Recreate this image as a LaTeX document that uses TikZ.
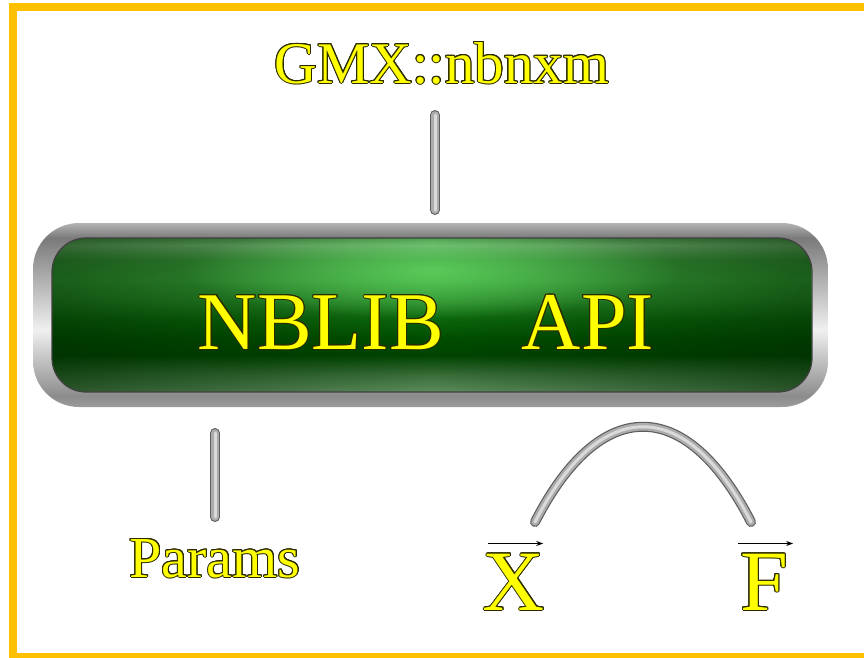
\documentclass[tikz,border=0pt]{standalone}
\usepackage{fontspec}
\setmainfont{Liberation Serif}
\usepackage{contour}
\contourlength{1pt}
\usetikzlibrary{arrows.meta,fadings,calc}

% palette
\definecolor{frameorange}{HTML}{FFC000}
\definecolor{labelyellow}{HTML}{FFFF00}
\definecolor{outl}{HTML}{2A2A00}
\definecolor{tubeedge}{HTML}{5E5E5E}
\definecolor{tubebody}{HTML}{ACACAC}
\definecolor{tubehi}{HTML}{DADADA}
\definecolor{rimA}{HTML}{9C9C9C}
\definecolor{rimB}{HTML}{8C8C8C}
\definecolor{rimC}{HTML}{F0F0F0}
\definecolor{rimD}{HTML}{7A7A7A}
\definecolor{rimE}{HTML}{B4B4B4}
\definecolor{gA}{HTML}{5E8C5E}
\definecolor{gB}{HTML}{3A6E3A}
\definecolor{gC}{HTML}{004400}
\definecolor{gD}{HTML}{004D00}
\definecolor{gE}{HTML}{0B650B}
\definecolor{gF}{HTML}{2A8A2A}
\definecolor{gG}{HTML}{3AA03A}
\definecolor{gH}{HTML}{3D953D}
\definecolor{gI}{HTML}{74B074}
\definecolor{gJ}{HTML}{4A904A}
\definecolor{glowgreen}{HTML}{66DD66}
\definecolor{edgegreen}{HTML}{002800}

% metallic rim and glossy green face of the button
\pgfdeclareverticalshading{rimshade}{100bp}{color(0bp)=(rimA); color(25bp)=(rimA);
  color(28bp)=(rimB); color(46bp)=(rimC); color(71bp)=(rimD); color(75bp)=(rimE);
  color(100bp)=(rimE)}
\pgfdeclareverticalshading{faceshade}{100bp}{color(0bp)=(gA); color(25bp)=(gA);
  color(30.5bp)=(gB); color(37bp)=(gC); color(42bp)=(gD); color(48.4bp)=(gE);
  color(55bp)=(gF); color(61.4bp)=(gG); color(68bp)=(gH); color(72.7bp)=(gI);
  color(75bp)=(gJ); color(100bp)=(gJ)}

\tikzfading[name=glowfade, inner color=transparent!30, outer color=transparent!100]
\tikzfading[name=edgefade, left color=transparent!45, right color=transparent!45,
  middle color=transparent!100]

\tikzset{
  lbl/.style={text=labelyellow, inner sep=0pt, anchor=base},
  tube/.style={draw=tubeedge, line width=10pt, line cap=round,
    postaction={draw=tubebody, line width=7.6pt},
    postaction={draw=tubehi, line width=3pt}},
  vecarrow/.style={draw=black, line width=1.3pt,
    -{Stealth[length=7pt,width=5pt]}}
}

\begin{document}
\begin{tikzpicture}[x=1pt,y=-1pt]
\useasboundingbox (0,0) rectangle (864,657);

% outer frame
\draw[frameorange, line width=8pt] (13.3,7) rectangle (876,657);

% button: rim
\shade[shading=rimshade, rounded corners=46pt] (33,223) rectangle (828,407);
% button: face
\def\facepath{(52,238) rectangle (812,392)}
\begin{scope}
  \clip[rounded corners=34pt] \facepath;
  \shade[shading=faceshade] (52,238) rectangle (812,392);
  \fill[edgegreen, path fading=edgefade] (52,238) rectangle (812,392);
  \fill[glowgreen, path fading=glowfade] (432,270) ellipse [x radius=250, y radius=48];
\end{scope}
\draw[black!75, line width=1.2pt, rounded corners=34pt] \facepath;

% labels
\node[lbl, font=\fontsize{82}{90}\selectfont] (api) at (426,349)
  {\contour{outl}{NBLIB\hspace{78pt}API}};
\node[lbl, font=\fontsize{59}{64}\selectfont] (gmx) at (442,83)
  {\contour{outl}{GMX::nbnxm}};
\node[lbl, font=\fontsize{58}{64}\selectfont] (params) at (215,577)
  {\contour{outl}{Params}};
\node[lbl, font=\fontsize{86}{90}\selectfont] (X) at (514,610)
  {\contour{outl}{X}};
\node[lbl, font=\fontsize{86}{90}\selectfont] (F) at (764,610)
  {\contour{outl}{F}};

% vector arrows over X and F
\draw[vecarrow] ([shift={(5,-10)}]X.north west) -- ([shift={(-2,-10)}]X.north east);
\draw[vecarrow] ([shift={(-2,-10)}]F.north west) -- ([shift={(5,-10)}]F.north east);

% connector ends
\coordinate (gmxlow)  at (435,115);
\coordinate (apitop)  at (435,210);
\coordinate (apibot)  at (215,433);
\coordinate (parup)   at (215,517);
\coordinate (xtop)    at (535,522);
\coordinate (ftop)    at (751,522);

% connectors
\draw[tube] (gmxlow) -- (apitop);
\draw[tube] (apibot) -- (parup);
\draw[tube] (xtop) .. controls (600,395) and (686,395) .. (ftop);
\end{tikzpicture}
\end{document}
